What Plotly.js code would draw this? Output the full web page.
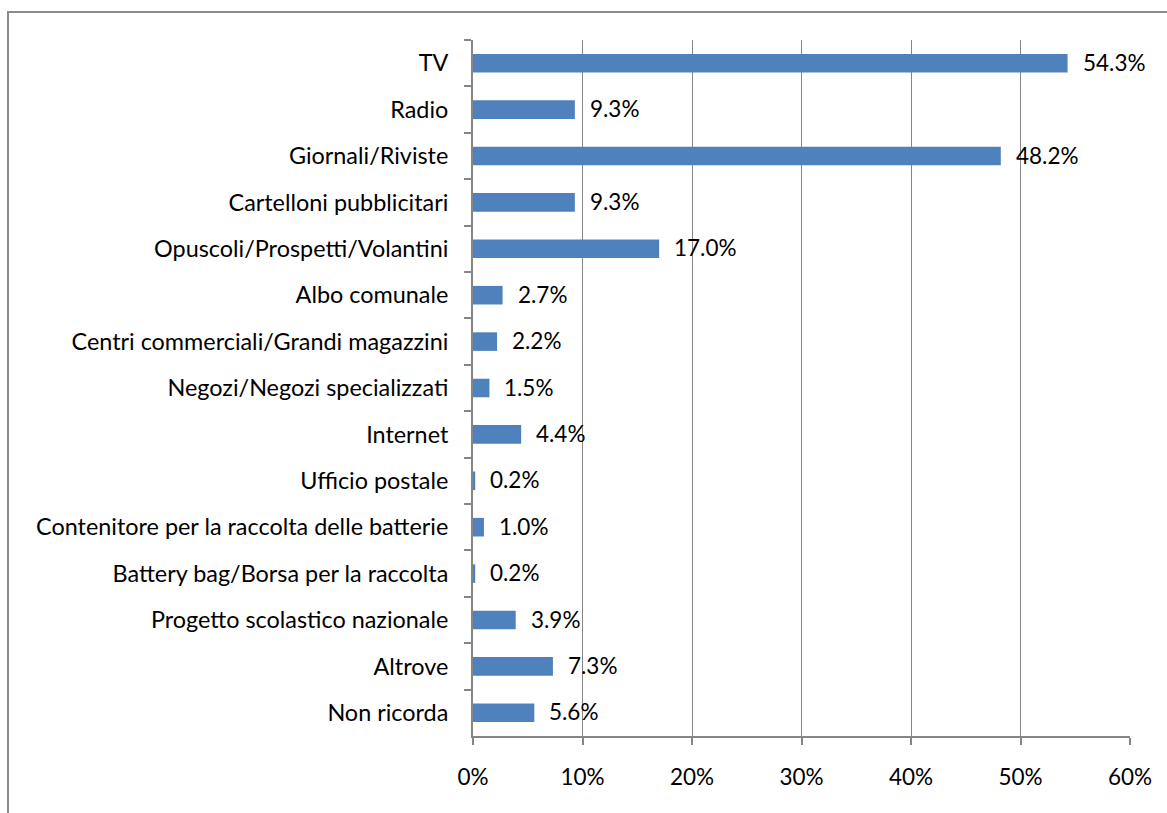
<!DOCTYPE html>
<html><head><meta charset="utf-8">
<script src="https://cdn.plot.ly/plotly-3.0.1.min.js"></script>
<style>
html,body{margin:0;padding:0;background:#fff;overflow:hidden;}
#frame{position:absolute;left:7px;top:11px;width:1300px;height:900px;border-left:2px solid #8c8c8c;border-top:2px solid #8c8c8c;pointer-events:none;}
#chart{position:absolute;left:0;top:0;width:1167px;height:813px;}
</style></head>
<body>
<div id="frame"></div>
<div id="chart"></div>
<script>
const categories = ["TV","Radio","Giornali/Riviste","Cartelloni pubblicitari","Opuscoli/Prospetti/Volantini","Albo comunale","Centri commerciali/Grandi magazzini","Negozi/Negozi specializzati","Internet","Ufficio postale","Contenitore per la raccolta delle batterie","Battery bag/Borsa per la raccolta","Progetto scolastico nazionale","Altrove","Non ricorda"];
const values = [54.3, 9.3, 48.2, 9.3, 17.0, 2.7, 2.2, 1.5, 4.4, 0.2, 1.0, 0.2, 3.9, 7.3, 5.6];
const xTickVals = [0,10,20,30,40,50,60];
const xTickText = ["0%","10%","20%","30%","40%","50%","60%"];

const FONT = "Lato, 'Open Sans', sans-serif";

const trace = {
  type: "bar",
  orientation: "h",
  x: values.map(v => v/100),
  y: categories,
  width: 0.4,
  marker: {color: "#4F81BD", line: {width: 0}},
  hoverinfo: "none"
};

const annotations = values.map((v,i) => ({
  x: v/100, y: categories[i], xref: "x", yref: "y",
  text: v.toFixed(1) + "%", showarrow: false,
  xanchor: "left", yanchor: "middle", xshift: 13, yshift: 1,
  font: {family: FONT, size: 22.5, color: "#000"}
}));

const layout = {
  width: 1167, height: 813,
  margin: {l: 473, r: 37, t: 40, b: 77},
  paper_bgcolor: "rgba(0,0,0,0)",
  plot_bgcolor: "rgba(0,0,0,0)",
  showlegend: false,
  font: {family: FONT, size: 22, color: "#000"},
  xaxis: {
    range: [0, 0.6],
    tickvals: xTickVals.map(v => v/100),
    ticktext: xTickText,
    showgrid: true, gridcolor: "#868686", gridwidth: 1,
    showline: true, linecolor: "#868686", linewidth: 2,
    ticks: "outside", ticklen: 7, tickcolor: "#868686", tickwidth: 2,
    ticklabelstandoff: 13,
    zeroline: false,
    tickfont: {family: FONT, size: 22.5, color: "#000"}
  },
  yaxis: {
    type: "category",
    autorange: "reversed",
    showgrid: false,
    showline: true, linecolor: "#868686", linewidth: 2,
    ticks: "outside", ticklen: 7, tickcolor: "#868686", tickwidth: 2,
    tickson: "boundaries",
    ticklabelstandoff: 18,
    tickfont: {family: FONT, size: 23.4, color: "#000"}
  },
  annotations: annotations
};

Plotly.newPlot("chart", [trace], layout, {staticPlot: true, displayModeBar: false});
</script>
</body></html>
